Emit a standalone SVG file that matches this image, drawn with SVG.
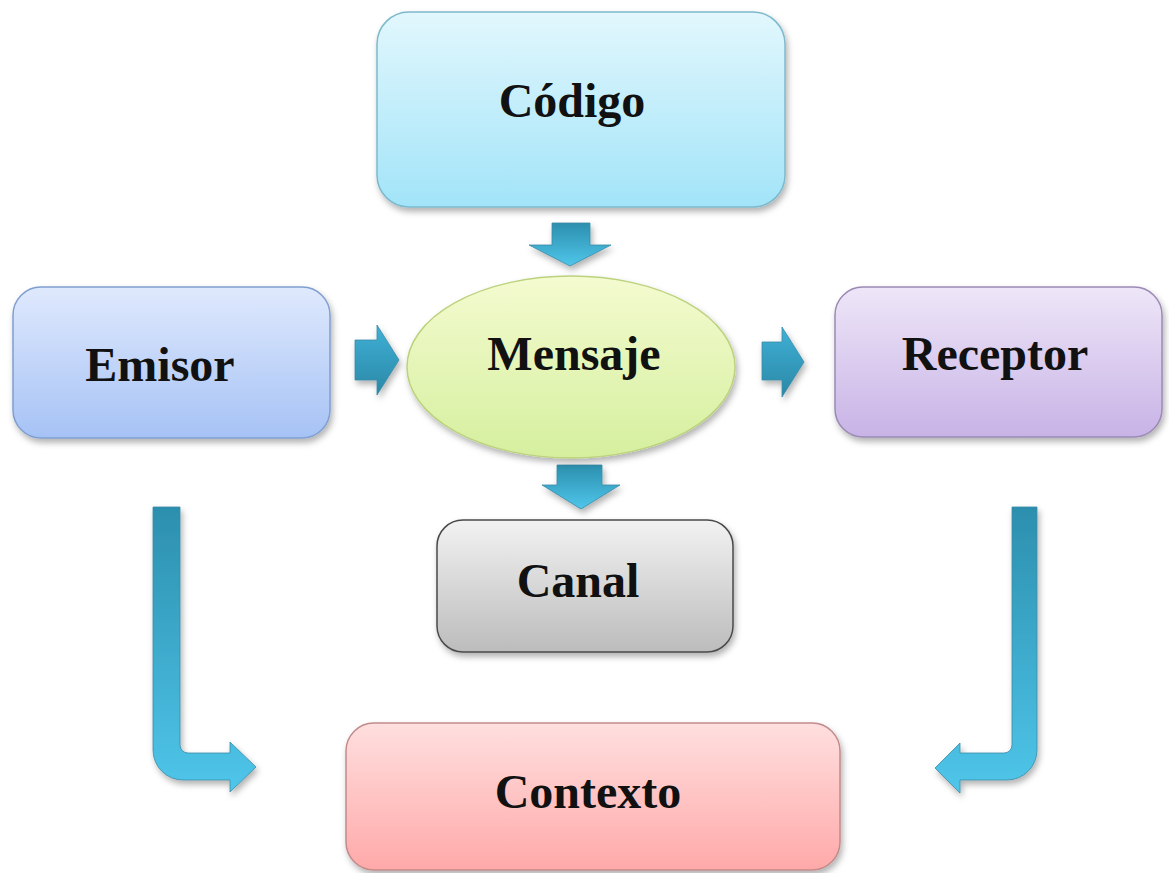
<svg xmlns="http://www.w3.org/2000/svg" width="1169" height="873" viewBox="0 0 1169 873">
<style>
.lbl{font-family:"Liberation Serif","Times New Roman",serif;font-weight:bold;font-size:48px;fill:#111;text-anchor:middle}
.box{stroke-width:1.5}
.arr{stroke:#3a8aa6;stroke-width:0.8}
</style>
<defs>
<filter id="sh" x="-10%" y="-10%" width="125%" height="130%">
<feDropShadow dx="2" dy="4" stdDeviation="3" flood-color="#000" flood-opacity="0.3"/>
</filter>
<linearGradient id="gCod" x1="0" y1="0" x2="0" y2="1"><stop offset="0" stop-color="#e2f7fd"/><stop offset="1" stop-color="#a2e4f8"/></linearGradient>
<linearGradient id="gEmi" x1="0" y1="0" x2="0" y2="1"><stop offset="0" stop-color="#dfe9fd"/><stop offset="1" stop-color="#a6c2f5"/></linearGradient>
<linearGradient id="gMen" x1="0" y1="0" x2="0" y2="1"><stop offset="0" stop-color="#f4fbd0"/><stop offset="1" stop-color="#d5ef9e"/></linearGradient>
<linearGradient id="gRec" x1="0" y1="0" x2="0" y2="1"><stop offset="0" stop-color="#eee6f8"/><stop offset="1" stop-color="#c8b3e6"/></linearGradient>
<linearGradient id="gCan" x1="0" y1="0" x2="0" y2="1"><stop offset="0" stop-color="#f2f2f2"/><stop offset="1" stop-color="#bcbcbc"/></linearGradient>
<linearGradient id="gCon" x1="0" y1="0" x2="0" y2="1"><stop offset="0" stop-color="#ffdfdf"/><stop offset="1" stop-color="#ffa9a9"/></linearGradient>
<linearGradient id="gArr" x1="0" y1="0" x2="0" y2="1"><stop offset="0" stop-color="#2c8fae"/><stop offset="1" stop-color="#4fc6ea"/></linearGradient>
<linearGradient id="gArrH" x1="0" y1="0" x2="0" y2="1"><stop offset="0" stop-color="#3fb0d6"/><stop offset="1" stop-color="#2a88a6"/></linearGradient>
</defs>
<rect width="1169" height="873" fill="#fff"/>
<g id="connectors" filter="url(#sh)">
<path class="arr" fill="url(#gArr)" d="M552,223 H590 V245 H611 L570,266 L529,245 H552 Z"/>
<path class="arr" fill="url(#gArrH)" d="M355,340 H377 V325 L399,360 L377,395 V380 H355 Z"/>
<path class="arr" fill="url(#gArrH)" d="M762,342 H782 V327 L804,362 L782,397 V380 H762 Z"/>
<path class="arr" fill="url(#gArr)" d="M557,465 H602 V485 H620 L581,509 L542,485 H557 Z"/>
<path class="arr" fill="url(#gArr)" d="M153,507 H180 V745 A8,8 0 0 0 188,753 H230 V742 L256,767 L230,792 V780 H183 A30,30 0 0 1 153,750 Z"/>
<path class="arr" fill="url(#gArr)" d="M1037,507 V750 A30,30 0 0 1 1007,780 H960 V793 L935,768 L960,743 V753 H1004 A8,8 0 0 0 1012,745 V507 Z"/>
</g>
<g id="codigo">
<rect class="box" x="377" y="12" width="408" height="195" rx="32" fill="url(#gCod)" stroke="#7db9cc" filter="url(#sh)"/>
<text class="lbl" x="572" y="117">Código</text>
</g>
<g id="emisor">
<rect class="box" x="13" y="287" width="317" height="151" rx="28" fill="url(#gEmi)" stroke="#809fcf" filter="url(#sh)"/>
<text class="lbl" x="160" y="381">Emisor</text>
</g>
<g id="mensaje">
<ellipse class="box" cx="571" cy="367" rx="164" ry="91" fill="url(#gMen)" stroke="#bcd27e" filter="url(#sh)"/>
<text class="lbl" x="574" y="370">Mensaje</text>
</g>
<g id="receptor">
<rect class="box" x="835" y="287" width="327" height="150" rx="28" fill="url(#gRec)" stroke="#9b8ab4" filter="url(#sh)"/>
<text class="lbl" x="995" y="370">Receptor</text>
</g>
<g id="canal">
<rect class="box" x="437" y="520" width="296" height="132" rx="26" fill="url(#gCan)" stroke="#4a4a4a" filter="url(#sh)"/>
<text class="lbl" x="578" y="597">Canal</text>
</g>
<g id="contexto">
<rect class="box" x="346" y="723" width="494" height="147" rx="28" fill="url(#gCon)" stroke="#c28b8b" filter="url(#sh)"/>
<text class="lbl" x="588" y="808">Contexto</text>
</g>
</svg>
